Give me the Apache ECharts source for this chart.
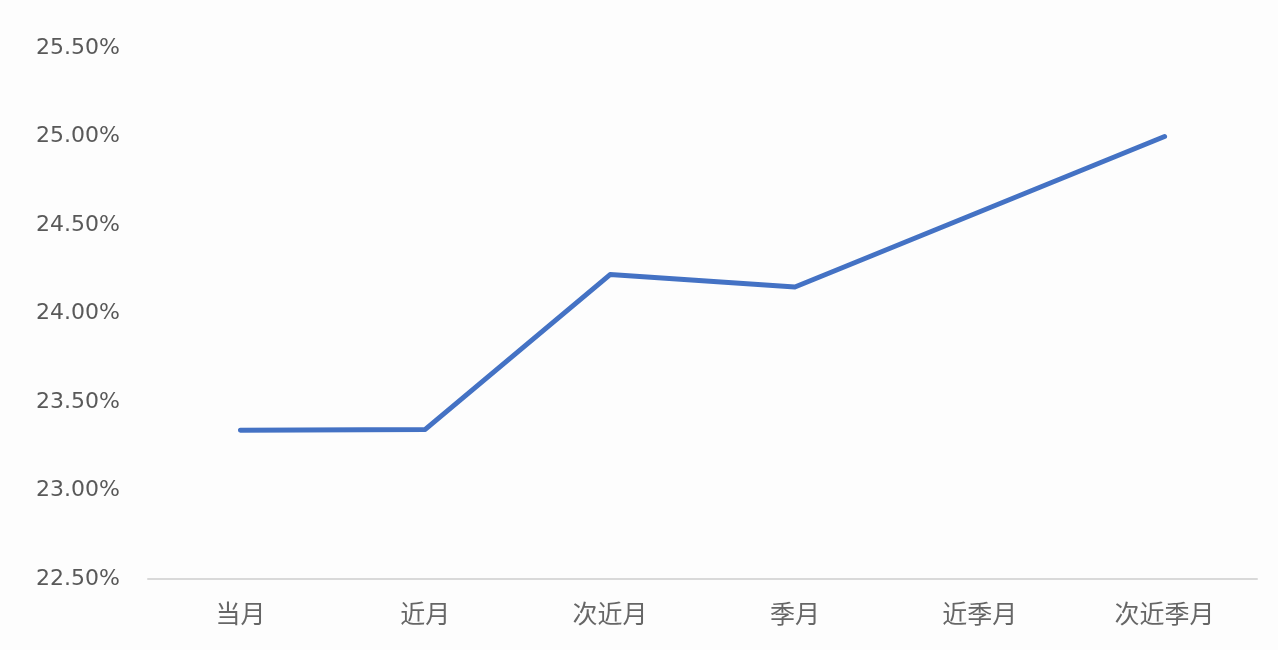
<!DOCTYPE html>
<html><head><meta charset="utf-8">
<script src="https://cdn.jsdelivr.net/npm/echarts@6/dist/echarts.min.js"></script>
<style>html,body{margin:0;padding:0;background:#fdfdfd}#c{width:1278px;height:650px}</style>
</head><body><div id="c"></div>
<script>
const categories = ['当月','近月','次近月','季月','近季月','次近季月'];
const values = [23.34, 23.345, 24.22, 24.15, 24.575, 25.00];
const yMin = 22.5, yMax = 25.5, yStep = 0.5;

const chart = echarts.init(document.getElementById('c'));
chart.setOption({
  backgroundColor: '#fdfdfd',
  animation: false,
  grid: {left: 148, right: 21, top: 48, bottom: 71},
  xAxis: {
    type: 'category', data: categories, boundaryGap: true,
    axisLine: {lineStyle: {color: '#d9d9d9', width: 2}},
    axisTick: {show: false},
    axisLabel: {color: '#666666', fontSize: 25, margin: 22, fontFamily: 'Noto Sans CJK SC'}
  },
  yAxis: {
    type: 'value', min: yMin, max: yMax, interval: yStep,
    axisLine: {show: false}, axisTick: {show: false},
    splitLine: {show: false},
    axisLabel: {color: '#595959', fontSize: 22, margin: 28, fontFamily: 'DejaVu Sans',
      formatter: v => v.toFixed(2) + '%'}
  },
  series: [{
    type: 'line', data: values, symbol: 'none',
    lineStyle: {color: '#4472c4', width: 5, cap: 'round', join: 'round'}
  }]
});
</script></body></html>
